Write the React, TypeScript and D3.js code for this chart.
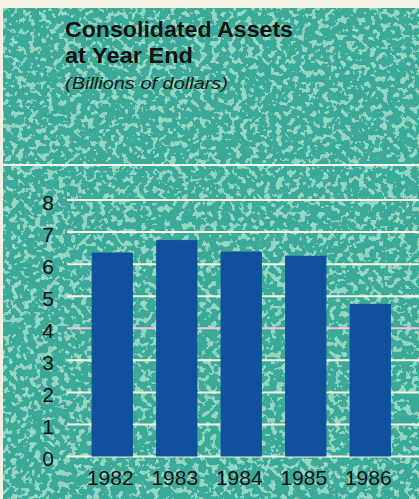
import React from "react";
import * as d3 from "d3";

const years = ["1982", "1983", "1984", "1985", "1986"];
const assets = [6.36, 6.75, 6.39, 6.26, 4.76];
const yTicks = [0, 1, 2, 3, 4, 5, 6, 7, 8];
const titleLines = ["Consolidated Assets", "at Year End"];
const subtitle = "(Billions of dollars)";

const W = 419;
const H = 499;
const FONT = "'Liberation Sans', Arial, Helvetica, sans-serif";

export default function App() {
  const x = d3
    .scaleBand<string>()
    .domain(years)
    .range([80, 402.5])
    .paddingInner(0.36)
    .paddingOuter(0.18);
  const y = d3.scaleLinear().domain([0, 8]).range([456.5, 200]);

  return (
    <svg
      width={W}
      height={H}
      style={{ position: "absolute", left: 0, top: 0 }}
      xmlns="http://www.w3.org/2000/svg"
    >
      <defs>
        <filter id="tex" x="0" y="0" width="1" height="1">
          <feTurbulence type="fractalNoise" baseFrequency="0.17" numOctaves="2" seed="7" result="n" />
          <feColorMatrix
            in="n"
            type="matrix"
            values="0 0 0 0 0  0 0 0 0 0  0 0 0 0 0  3.2 0 0 0 -1.3"
            result="a"
          />
          <feComponentTransfer in="a" result="t">
            <feFuncA type="discrete" tableValues="0 0 0.8 0.95" />
          </feComponentTransfer>
          <feFlood floodColor="#9bd9c6" result="f" />
          <feComposite in="f" in2="t" operator="in" />
        </filter>
      </defs>
      <rect x={0} y={0} width={W} height={H} fill="#f3f1e4" />
      <rect x={3} y={8} width={W - 3} height={H - 8} fill="#3caa98" />
      <rect x={3} y={8} width={W - 3} height={H - 8} fill="#fff" filter="url(#tex)" />
      <line x1={3} x2={W} y1={165} y2={165} stroke="#f4f6ea" strokeWidth={2} />

      {titleLines.map((t, i) => (
        <text
          key={t}
          x={65}
          y={37 + i * 26}
          fontFamily={FONT}
          fontWeight="bold"
          fontSize={22}
          fill="#111"
          textLength={i === 0 ? 228 : 128}
          lengthAdjust="spacingAndGlyphs"
        >
          {t}
        </text>
      ))}
      <text
        x={65}
        y={89}
        fontFamily={FONT}
        fontStyle="italic"
        fontSize={17}
        fill="#1a1a1a"
        textLength={163}
        lengthAdjust="spacingAndGlyphs"
      >
        {subtitle}
      </text>

      {yTicks.map((t) => (
        <g key={t}>
          <line
            x1={67}
            x2={W}
            y1={y(t)}
            y2={y(t)}
            stroke={t === 4 ? "#f2c3dc" : "#f3f5e2"}
            strokeWidth={2}
          />
          <text
            x={48}
            y={y(t) + 2}
            textAnchor="middle"
            dominantBaseline="central"
            fontFamily={FONT}
            fontSize={21}
            fill="#111"
          >
            {t}
          </text>
        </g>
      ))}

      {years.map((yr, i) => (
        <rect
          key={yr}
          x={x(yr)}
          y={y(assets[i])}
          width={x.bandwidth()}
          height={y(0) - y(assets[i])}
          fill="#10509c"
        />
      ))}

      {years.map((yr) => (
        <text
          key={yr}
          x={(x(yr) as number) + x.bandwidth() / 2 - 2}
          y={485}
          textAnchor="middle"
          fontFamily={FONT}
          fontSize={21}
          fill="#111"
        >
          {yr}
        </text>
      ))}
    </svg>
  );
}
